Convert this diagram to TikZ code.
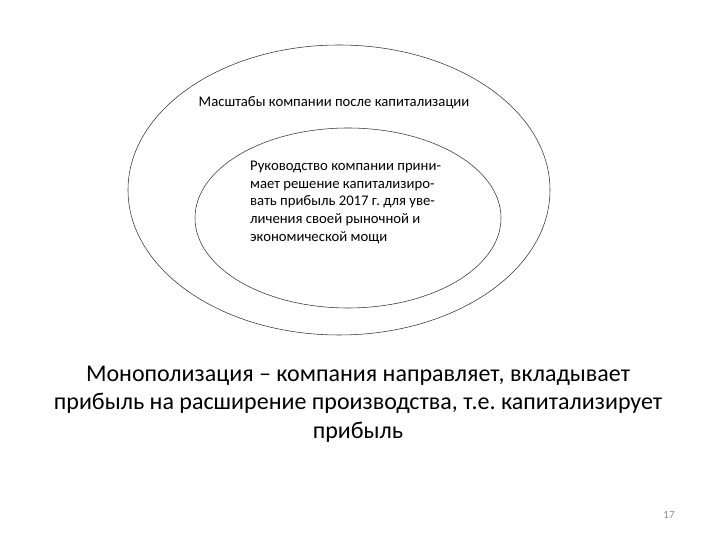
\documentclass[tikz,border=0pt]{standalone}
\usepackage{fontspec}
\setmainfont{Carlito}
\usetikzlibrary{shapes.geometric}

\tikzset{
    ring/.style={draw=black!80,line width=0.55pt,ellipse,inner sep=0pt},
    label/.style={inner sep=0pt,font=\fontsize{14.7}{17.6}\selectfont}
}

\begin{document}
\frenchspacing
\begin{tikzpicture}[x=1pt,y=1pt]
        \useasboundingbox (0,0) rectangle (720,540);

        \node[ring,minimum width=422,minimum height=290] (outer) at (339,350){};
        \node[ring,minimum width=306,minimum height=180] (inner) at (348,322){};

        \node[label] (scale) at (334,437){Масштабы компании после капитализации};
        \node[label,anchor=north west,align=left] (decision) at (250,379){Руководство компании прини-\\мает решение капитализиро-\\вать прибыль 2017 г. для уве-\\личения своей рыночной и\\экономической мощи};

        \node[inner sep=0pt,align=center,font=\fontsize{24}{28.5}\selectfont] (mono) at (358,136){Монополизация -- компания направляет, вкладывает\\прибыль на расширение производства, т.е. капитализирует\\прибыль};
        \node[inner sep=0pt,text=black!45,font=\fontsize{11}{13}\selectfont] (page) at (669,25){17};
    \end{tikzpicture}
\end{document}
